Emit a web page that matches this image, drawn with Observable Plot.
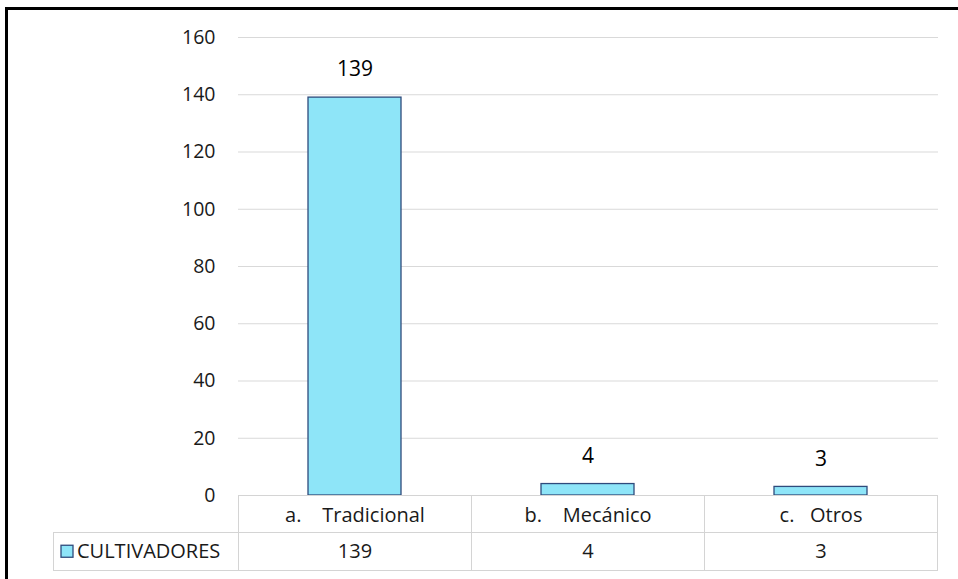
<!DOCTYPE html>
<html>
<head>
<meta charset="utf-8">
<script src="https://cdn.jsdelivr.net/npm/d3@7"></script>
<script src="https://cdn.jsdelivr.net/npm/@observablehq/plot@0.6"></script>
<style>
  html, body { margin: 0; padding: 0; background: #fff; }
  #chart { position: relative; width: 958px; height: 579px; }
  #chart svg { display: block; }
</style>
</head>
<body>
<div id="chart"></div>
<script>
// ---- data ----
const categories = ["a.\u00a0\u00a0\u00a0\u00a0Tradicional", "b.\u00a0\u00a0\u00a0\u00a0Mecánico", "c.\u00a0\u00a0\u00a0Otros"];
const values = [139, 4, 3];
const seriesName = "CULTIVADORES";
const yTicks = [0, 20, 40, 60, 80, 100, 120, 140, 160];

const data = categories.map((c, i) => ({cat: c, value: values[i]}));

const FONT = "'Open Sans', sans-serif";
const FILL = "#8ee5f8";
const STROKE = "#2f4b7c";
const GRID = "#d9d9d9";

const plot = Plot.plot({
  width: 958,
  height: 579,
  marginLeft: 238,
  marginRight: 20,
  marginTop: 37,
  marginBottom: 84,
  style: {fontFamily: FONT, fontSize: "19px", color: "#000", background: "#fff"},
  x: {domain: categories, paddingInner: 0.6, paddingOuter: 0.3, axis: null},
  y: {domain: [0, 160], axis: null},
  marks: [
    Plot.gridY(yTicks, {stroke: GRID, strokeOpacity: 1, strokeWidth: 1}),
    Plot.axisY(yTicks, {tickSize: 0, tickPadding: 23, fontSize: 19.5, fill: "#1a1a1a", label: null}),
    Plot.barY(data, {x: "cat", y: "value", fill: FILL, stroke: STROKE, strokeWidth: 1.3}),
    Plot.text(data, {x: "cat", y: "value", text: d => String(d.value), dy: -28, lineAnchor: "middle", fontSize: 21, fill: "#000"}),
    Plot.text(data, {x: "cat", text: "cat", frameAnchor: "bottom", dy: 20, lineAnchor: "middle", fontSize: 20, fill: "#1a1a1a"}),
    Plot.text(data, {x: "cat", text: d => String(d.value), frameAnchor: "bottom", dy: 56, lineAnchor: "middle", fontSize: 20, fill: "#1a1a1a"})
  ]
});

document.getElementById("chart").appendChild(plot);

// ---- data table grid & legend (drawn from the plot's x scale) ----
const svg = d3.select(plot);
const xs = plot.scale("x");
const step = xs.step;
const bw = xs.bandwidth;
const xScale = d3.scaleBand().domain(xs.domain).range(xs.range).paddingInner(xs.paddingInner ?? 0.6).paddingOuter(xs.paddingOuter ?? 0.3);
const edges = categories.map(c => xScale(c) + bw / 2 - step / 2);
edges.push(xScale(categories[categories.length - 1]) + bw / 2 + step / 2);
const ys = plot.scale("y");
const y0 = d3.scaleLinear().domain(ys.domain).range(ys.range)(0);
const rowH = 37.5;
const legendLeft = 53;
const g = svg.append("g").attr("stroke", "#d4d4d4").attr("stroke-width", 1).attr("shape-rendering", "crispEdges");
// horizontal lines
g.append("line").attr("x1", edges[0]).attr("x2", edges[edges.length - 1]).attr("y1", y0).attr("y2", y0);
g.append("line").attr("x1", legendLeft).attr("x2", edges[edges.length - 1]).attr("y1", y0 + rowH).attr("y2", y0 + rowH);
g.append("line").attr("x1", legendLeft).attr("x2", edges[edges.length - 1]).attr("y1", y0 + 2 * rowH).attr("y2", y0 + 2 * rowH);
// vertical lines
edges.forEach(e => g.append("line").attr("x1", e).attr("x2", e).attr("y1", y0).attr("y2", y0 + 2 * rowH));
g.append("line").attr("x1", legendLeft).attr("x2", legendLeft).attr("y1", y0 + rowH).attr("y2", y0 + 2 * rowH);
// legend swatch and label
const ly = y0 + rowH * 1.5;
svg.append("rect").attr("x", 61).attr("y", ly - 6).attr("width", 12).attr("height", 12)
  .attr("fill", FILL).attr("stroke", STROKE).attr("stroke-width", 1.3);
svg.append("text").attr("x", 77).attr("y", ly).attr("dy", "0.35em").attr("text-anchor", "start")
  .attr("font-family", FONT).attr("font-size", 20).attr("fill", "#1a1a1a").text(seriesName);
// outer frame (left and top thick black border)
svg.append("rect").attr("x", 5).attr("y", 7).attr("width", 3).attr("height", 579 - 7).attr("fill", "#000");
svg.append("rect").attr("x", 5).attr("y", 7).attr("width", 958 - 5).attr("height", 3).attr("fill", "#000");
</script>
</body>
</html>
